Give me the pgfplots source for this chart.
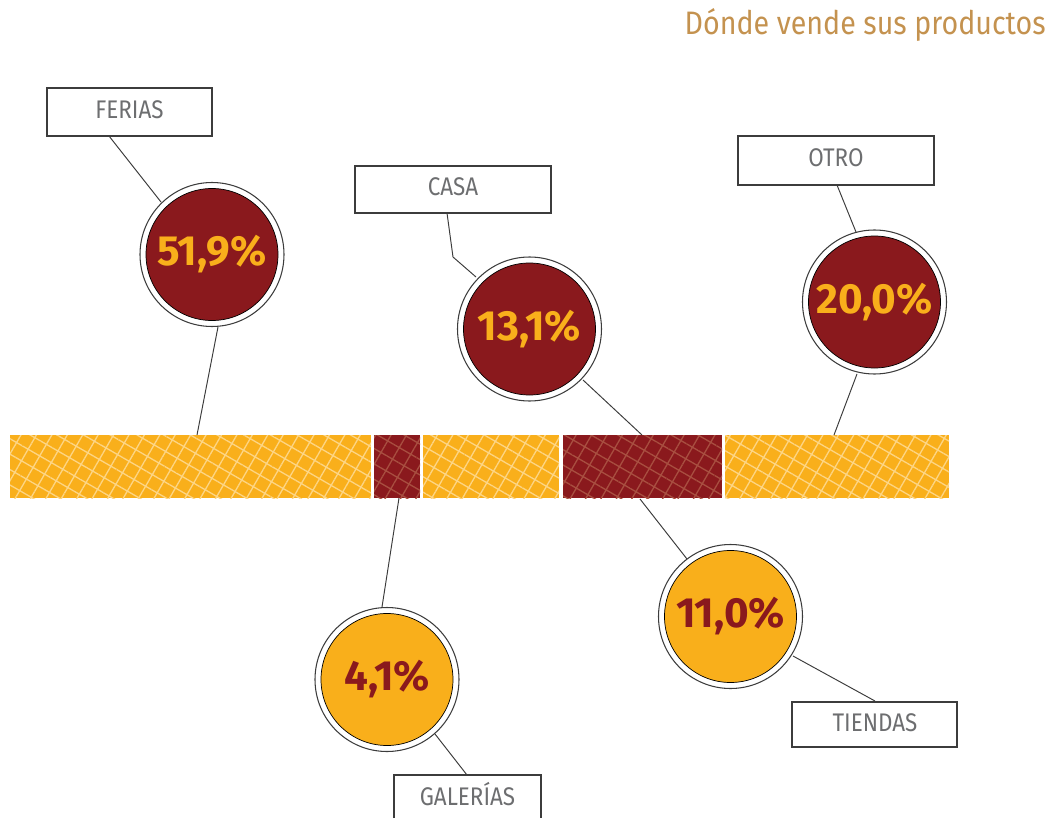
\documentclass[border=0pt]{standalone}
\usepackage{fontspec}
\setmainfont{Fira Sans}
\usepackage{pgfplots}
\pgfplotsset{compat=1.18}
\usetikzlibrary{patterns.meta}

\definecolor{naranja}{HTML}{F9AF1B}
\definecolor{granate}{HTML}{8A191D}
\definecolor{rejaN}{HTML}{FDD584}
\definecolor{rejaG}{HTML}{A84E40}
\definecolor{titulo}{HTML}{C4924F}
\definecolor{etiqueta}{HTML}{6D6E70}
\definecolor{borde}{HTML}{3C3C3C}

\newcommand{\estrecho}[2][0.88]{\scalebox{#1}[1]{#2}}

\tikzset{
  segN/.style={draw=none, fill=naranja,
    postaction={pattern={Hatch[angle=60, distance=7.6pt, line width=0.75pt]}, pattern color=rejaN}},
  segG/.style={draw=none, fill=granate,
    postaction={pattern={Hatch[angle=60, distance=7.6pt, line width=0.75pt]}, pattern color=rejaG}},
  caja/.style={draw=borde, line width=0.6pt},
  lab/.style={text=etiqueta, font=\fontsize{14.5}{15}\selectfont, text height=0.69em, text depth=0pt, inner sep=0pt},
  guia/.style={draw=borde, line width=0.55pt},
}

\begin{document}
\begin{tikzpicture}
\begin{axis}[
  scale only axis, width=21.12cm, height=16.36cm,
  xmin=0, xmax=1056, ymin=0, ymax=818, y dir=reverse,
  hide axis, clip=false,
]
\path (axis cs:0,0) rectangle (axis cs:1056,818);

% segmentos de la barra
\addplot[segN] coordinates {(10,435) (371,435) (371,498) (10,498)} -- cycle;   % ferias
\addplot[segG] coordinates {(374,435) (420,435) (420,498) (374,498)} -- cycle; % galerias
\addplot[segN] coordinates {(423,435) (559,435) (559,498) (423,498)} -- cycle; % casa
\addplot[segG] coordinates {(563,435) (722,435) (722,498) (563,498)} -- cycle; % tiendas
\addplot[segN] coordinates {(725,435) (949,435) (949,498) (725,498)} -- cycle; % otro

% lineas guia
\draw[guia] (axis cs:109,136) -- (axis cs:161,202);
\draw[guia] (axis cs:218,327) -- (axis cs:197,435);
\draw[guia] (axis cs:447,213) -- (axis cs:453,257) -- (axis cs:476,277);
\draw[guia] (axis cs:583,380) -- (axis cs:642,435);
\draw[guia] (axis cs:837,185) -- (axis cs:856,232);
\draw[guia] (axis cs:857,374) -- (axis cs:834,435);
\draw[guia] (axis cs:399,498) -- (axis cs:382,607);
\draw[guia] (axis cs:435,734) -- (axis cs:467,775);
\draw[guia] (axis cs:640,499) -- (axis cs:687,559);
\draw[guia] (axis cs:793,656) -- (axis cs:875,701);

% circulos
\addplot[only marks, mark=*, mark size=1.44cm, mark options={fill=white, draw=borde, line width=0.6pt}]
  coordinates {(212,254.5) (529.5,329) (874.5,302) (730.5,616.5) (387,679.5)};
\addplot[only marks, mark=*, mark size=1.32cm, mark options={fill=granate, draw=none},
  point meta=explicit symbolic, nodes near coords,
  every node near coord/.append style={anchor=center, text=naranja,
    font=\bfseries\fontsize{24}{24}\selectfont}]
  coordinates {(212,254.5)[51,9\%] (529.5,329)[13,1\%] (874.5,302)[20,0\%]};
\addplot[only marks, mark=*, mark size=1.32cm, mark options={fill=naranja, draw=none},
  point meta=explicit symbolic, nodes near coords,
  every node near coord/.append style={anchor=center, text=granate,
    font=\bfseries\fontsize{24}{24}\selectfont}]
  coordinates {(730.5,616.5)[11,0\%] (387,679.5)[4,1\%]};

% cajas de etiqueta
\draw[caja] (axis cs:47,88) rectangle (axis cs:212,136);
\node[lab] at (axis cs:129.5,112) {\estrecho{FERIAS}};
\draw[caja] (axis cs:355,166) rectangle (axis cs:551,213);
\node[lab] at (axis cs:453,189.5) {\estrecho{CASA}};
\draw[caja] (axis cs:738,136) rectangle (axis cs:934,185);
\node[lab] at (axis cs:836,160.5) {\estrecho{OTRO}};
\draw[caja] (axis cs:792,702) rectangle (axis cs:957,747);
\node[lab] at (axis cs:875,725) {\estrecho{TIENDAS}};
\draw[caja] (axis cs:394,818) -- (axis cs:394,775) -- (axis cs:541,775) -- (axis cs:541,818);
\node[lab] at (axis cs:467.5,799) {\estrecho{GALERÍAS}};

% titulo
\node[anchor=base east, text=titulo, inner sep=0pt, font=\fontsize{18.5}{20}\selectfont]
  at (axis cs:1046,35) {\estrecho[0.88]{Dónde vende sus productos}};
\end{axis}
\end{tikzpicture}
\end{document}
